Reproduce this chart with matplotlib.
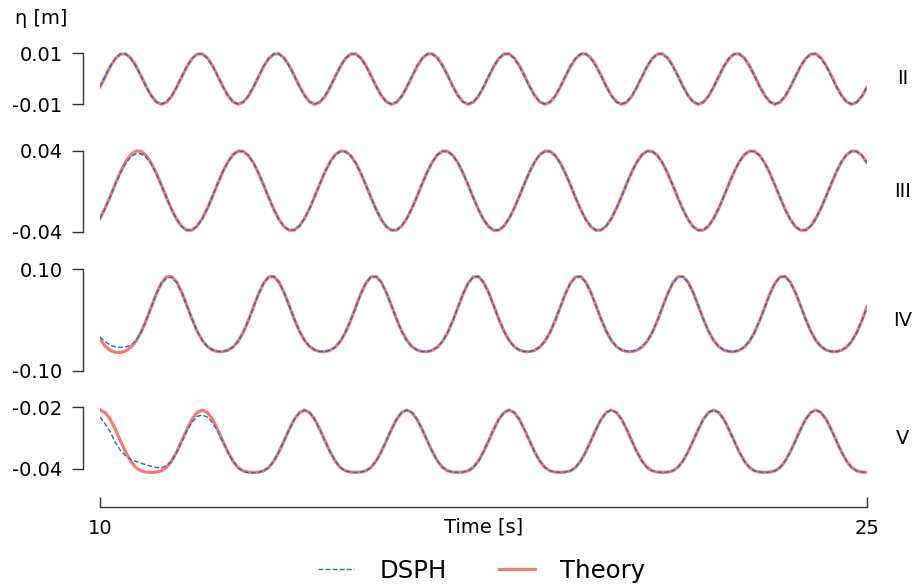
import numpy as np
import matplotlib
matplotlib.use("Agg")
import matplotlib.pyplot as plt
from matplotlib.transforms import blended_transform_factory

plt.rcParams["font.family"] = ["DejaVu Sans"]
plt.rcParams["axes.unicode_minus"] = False

# ---------------- data (surface elevation, metres) ----------------
t_start, t_end, n_samples = 10.0, 25.0, 151
time_s = np.linspace(t_start, t_end, n_samples)

theory_II = [
    -0.0033, 0.0008, 0.0048, 0.0079, 0.0097, 0.0098, 0.0082, 0.0052, 0.0013, -0.0029, -0.0065, -0.0090, -0.0100, -0.0092, -0.0069,
    -0.0033, 0.0008, 0.0048, 0.0079, 0.0097, 0.0098, 0.0082, 0.0052, 0.0013, -0.0029, -0.0065, -0.0090, -0.0100, -0.0092, -0.0069,
    -0.0033, 0.0008, 0.0048, 0.0079, 0.0097, 0.0098, 0.0082, 0.0052, 0.0013, -0.0029, -0.0065, -0.0090, -0.0100, -0.0092, -0.0069,
    -0.0033, 0.0008, 0.0048, 0.0079, 0.0097, 0.0098, 0.0082, 0.0052, 0.0013, -0.0029, -0.0065, -0.0090, -0.0100, -0.0092, -0.0069,
    -0.0033, 0.0008, 0.0048, 0.0079, 0.0097, 0.0098, 0.0082, 0.0052, 0.0013, -0.0029, -0.0065, -0.0090, -0.0100, -0.0092, -0.0069,
    -0.0033, 0.0008, 0.0048, 0.0079, 0.0097, 0.0098, 0.0082, 0.0052, 0.0013, -0.0029, -0.0065, -0.0090, -0.0100, -0.0092, -0.0069,
    -0.0033, 0.0008, 0.0048, 0.0079, 0.0097, 0.0098, 0.0082, 0.0052, 0.0013, -0.0029, -0.0065, -0.0090, -0.0100, -0.0092, -0.0069,
    -0.0033, 0.0008, 0.0048, 0.0079, 0.0097, 0.0098, 0.0082, 0.0052, 0.0013, -0.0029, -0.0065, -0.0090, -0.0100, -0.0092, -0.0069,
    -0.0033, 0.0008, 0.0048, 0.0079, 0.0097, 0.0098, 0.0082, 0.0052, 0.0013, -0.0029, -0.0065, -0.0090, -0.0100, -0.0092, -0.0069,
    -0.0033, 0.0008, 0.0048, 0.0079, 0.0097, 0.0098, 0.0082, 0.0052, 0.0013, -0.0029, -0.0065, -0.0090, -0.0100, -0.0092, -0.0069,
    -0.0033,
]
dsph_II = [
    -0.0031, 0.0010, 0.0050, 0.0080, 0.0097, 0.0097, 0.0080, 0.0050, 0.0011, -0.0031, -0.0066, -0.0091, -0.0099, -0.0091, -0.0067,
    -0.0031, 0.0010, 0.0050, 0.0080, 0.0097, 0.0097, 0.0080, 0.0050, 0.0011, -0.0031, -0.0066, -0.0091, -0.0099, -0.0091, -0.0067,
    -0.0031, 0.0010, 0.0050, 0.0080, 0.0097, 0.0097, 0.0080, 0.0050, 0.0011, -0.0031, -0.0066, -0.0091, -0.0099, -0.0091, -0.0067,
    -0.0031, 0.0010, 0.0050, 0.0080, 0.0097, 0.0097, 0.0080, 0.0050, 0.0011, -0.0031, -0.0066, -0.0091, -0.0099, -0.0091, -0.0067,
    -0.0031, 0.0010, 0.0050, 0.0080, 0.0097, 0.0097, 0.0080, 0.0050, 0.0011, -0.0031, -0.0066, -0.0091, -0.0099, -0.0091, -0.0067,
    -0.0031, 0.0010, 0.0050, 0.0080, 0.0097, 0.0097, 0.0080, 0.0050, 0.0011, -0.0031, -0.0066, -0.0091, -0.0099, -0.0091, -0.0067,
    -0.0031, 0.0010, 0.0050, 0.0080, 0.0097, 0.0097, 0.0080, 0.0050, 0.0011, -0.0031, -0.0066, -0.0091, -0.0099, -0.0091, -0.0067,
    -0.0031, 0.0010, 0.0050, 0.0080, 0.0097, 0.0097, 0.0080, 0.0050, 0.0011, -0.0031, -0.0066, -0.0091, -0.0099, -0.0091, -0.0067,
    -0.0031, 0.0010, 0.0050, 0.0080, 0.0097, 0.0097, 0.0080, 0.0050, 0.0011, -0.0031, -0.0066, -0.0091, -0.0099, -0.0091, -0.0067,
    -0.0031, 0.0010, 0.0050, 0.0080, 0.0097, 0.0097, 0.0080, 0.0050, 0.0011, -0.0031, -0.0066, -0.0091, -0.0099, -0.0091, -0.0067,
    -0.0031,
]

theory_III = [
    -0.0270, -0.0169, -0.0051, 0.0073, 0.0190, 0.0289, 0.0360, 0.0396, 0.0394, 0.0354, 0.0280, 0.0179, 0.0061, -0.0063, -0.0180, -0.0279, -0.0350, -0.0386, -0.0384, -0.0344,
    -0.0270, -0.0169, -0.0051, 0.0073, 0.0190, 0.0289, 0.0360, 0.0396, 0.0394, 0.0354, 0.0280, 0.0179, 0.0061, -0.0063, -0.0180, -0.0279, -0.0350, -0.0386, -0.0384, -0.0344,
    -0.0270, -0.0169, -0.0051, 0.0073, 0.0190, 0.0289, 0.0360, 0.0396, 0.0394, 0.0354, 0.0280, 0.0179, 0.0061, -0.0063, -0.0180, -0.0279, -0.0350, -0.0386, -0.0384, -0.0344,
    -0.0270, -0.0169, -0.0051, 0.0073, 0.0190, 0.0289, 0.0360, 0.0396, 0.0394, 0.0354, 0.0280, 0.0179, 0.0061, -0.0063, -0.0180, -0.0279, -0.0350, -0.0386, -0.0384, -0.0344,
    -0.0270, -0.0169, -0.0051, 0.0073, 0.0190, 0.0289, 0.0360, 0.0396, 0.0394, 0.0354, 0.0280, 0.0179, 0.0061, -0.0063, -0.0180, -0.0279, -0.0350, -0.0386, -0.0384, -0.0344,
    -0.0270, -0.0169, -0.0051, 0.0073, 0.0190, 0.0289, 0.0360, 0.0396, 0.0394, 0.0354, 0.0280, 0.0179, 0.0061, -0.0063, -0.0180, -0.0279, -0.0350, -0.0386, -0.0384, -0.0344,
    -0.0270, -0.0169, -0.0051, 0.0073, 0.0190, 0.0289, 0.0360, 0.0396, 0.0394, 0.0354, 0.0280, 0.0179, 0.0061, -0.0063, -0.0180, -0.0279, -0.0350, -0.0386, -0.0384, -0.0344,
    -0.0270, -0.0169, -0.0051, 0.0073, 0.0190, 0.0289, 0.0360, 0.0396, 0.0394, 0.0354, 0.0280,
]
dsph_III = [
    -0.0270, -0.0170, -0.0054, 0.0068, 0.0180, 0.0272, 0.0337, 0.0368, 0.0370, 0.0336, 0.0268, 0.0173, 0.0060, -0.0063, -0.0180, -0.0279, -0.0350, -0.0386, -0.0384, -0.0344,
    -0.0270, -0.0169, -0.0051, 0.0073, 0.0190, 0.0289, 0.0360, 0.0394, 0.0392, 0.0353, 0.0280, 0.0179, 0.0061, -0.0063, -0.0180, -0.0279, -0.0350, -0.0386, -0.0384, -0.0344,
    -0.0270, -0.0169, -0.0051, 0.0073, 0.0190, 0.0289, 0.0358, 0.0390, 0.0388, 0.0350, 0.0279, 0.0179, 0.0061, -0.0063, -0.0180, -0.0279, -0.0350, -0.0386, -0.0384, -0.0344,
    -0.0270, -0.0169, -0.0051, 0.0073, 0.0190, 0.0289, 0.0360, 0.0394, 0.0392, 0.0353, 0.0280, 0.0179, 0.0061, -0.0063, -0.0180, -0.0279, -0.0350, -0.0386, -0.0384, -0.0344,
    -0.0270, -0.0169, -0.0051, 0.0073, 0.0190, 0.0289, 0.0360, 0.0394, 0.0392, 0.0353, 0.0280, 0.0179, 0.0061, -0.0063, -0.0180, -0.0279, -0.0350, -0.0386, -0.0384, -0.0344,
    -0.0270, -0.0169, -0.0051, 0.0073, 0.0190, 0.0289, 0.0360, 0.0394, 0.0392, 0.0353, 0.0280, 0.0179, 0.0061, -0.0063, -0.0180, -0.0279, -0.0350, -0.0386, -0.0384, -0.0344,
    -0.0270, -0.0169, -0.0051, 0.0073, 0.0190, 0.0289, 0.0360, 0.0394, 0.0392, 0.0353, 0.0280, 0.0179, 0.0061, -0.0063, -0.0180, -0.0279, -0.0350, -0.0386, -0.0384, -0.0344,
    -0.0270, -0.0169, -0.0051, 0.0073, 0.0190, 0.0289, 0.0360, 0.0394, 0.0392, 0.0353, 0.0280,
]

theory_IV = [
    -0.0370, -0.0515, -0.0600, -0.0638, -0.0642, -0.0612, -0.0540, -0.0422, -0.0246, -0.0014, 0.0252, 0.0514, 0.0728, 0.0851, 0.0858, 0.0748, 0.0544, 0.0284, 0.0016, -0.0220,
    -0.0402, -0.0524, -0.0592, -0.0622, -0.0624, -0.0597, -0.0534, -0.0420, -0.0246, -0.0014, 0.0252, 0.0514, 0.0728, 0.0851, 0.0858, 0.0748, 0.0544, 0.0284, 0.0016, -0.0220,
    -0.0402, -0.0524, -0.0592, -0.0622, -0.0624, -0.0597, -0.0534, -0.0420, -0.0246, -0.0014, 0.0252, 0.0514, 0.0728, 0.0851, 0.0858, 0.0748, 0.0544, 0.0284, 0.0016, -0.0220,
    -0.0402, -0.0524, -0.0592, -0.0622, -0.0624, -0.0597, -0.0534, -0.0420, -0.0246, -0.0014, 0.0252, 0.0514, 0.0728, 0.0851, 0.0858, 0.0748, 0.0544, 0.0284, 0.0016, -0.0220,
    -0.0402, -0.0524, -0.0592, -0.0622, -0.0624, -0.0597, -0.0534, -0.0420, -0.0246, -0.0014, 0.0252, 0.0514, 0.0728, 0.0851, 0.0858, 0.0748, 0.0544, 0.0284, 0.0016, -0.0220,
    -0.0402, -0.0524, -0.0592, -0.0622, -0.0624, -0.0597, -0.0534, -0.0420, -0.0246, -0.0014, 0.0252, 0.0514, 0.0728, 0.0851, 0.0858, 0.0748, 0.0544, 0.0284, 0.0016, -0.0220,
    -0.0402, -0.0524, -0.0592, -0.0622, -0.0624, -0.0597, -0.0534, -0.0420, -0.0246, -0.0014, 0.0252, 0.0514, 0.0728, 0.0851, 0.0858, 0.0748, 0.0544, 0.0284, 0.0016, -0.0220,
    -0.0402, -0.0524, -0.0592, -0.0622, -0.0624, -0.0597, -0.0534, -0.0420, -0.0246, -0.0014, 0.0265,
]
dsph_IV = [
    -0.0335, -0.0430, -0.0495, -0.0530, -0.0540, -0.0530, -0.0495, -0.0412, -0.0250, -0.0016, 0.0248, 0.0508, 0.0718, 0.0833, 0.0843, 0.0738, 0.0540, 0.0284, 0.0016, -0.0220,
    -0.0402, -0.0524, -0.0592, -0.0622, -0.0624, -0.0597, -0.0534, -0.0420, -0.0246, -0.0014, 0.0252, 0.0514, 0.0725, 0.0848, 0.0855, 0.0745, 0.0542, 0.0282, 0.0015, -0.0220,
    -0.0402, -0.0524, -0.0592, -0.0622, -0.0624, -0.0597, -0.0534, -0.0420, -0.0246, -0.0014, 0.0252, 0.0514, 0.0725, 0.0848, 0.0855, 0.0745, 0.0542, 0.0282, 0.0015, -0.0220,
    -0.0402, -0.0524, -0.0592, -0.0622, -0.0624, -0.0597, -0.0534, -0.0420, -0.0246, -0.0014, 0.0252, 0.0514, 0.0725, 0.0848, 0.0855, 0.0745, 0.0542, 0.0282, 0.0015, -0.0220,
    -0.0402, -0.0524, -0.0592, -0.0622, -0.0624, -0.0597, -0.0534, -0.0420, -0.0246, -0.0014, 0.0252, 0.0514, 0.0725, 0.0848, 0.0855, 0.0745, 0.0542, 0.0282, 0.0015, -0.0220,
    -0.0402, -0.0524, -0.0592, -0.0615, -0.0615, -0.0590, -0.0530, -0.0420, -0.0246, -0.0014, 0.0252, 0.0514, 0.0725, 0.0848, 0.0855, 0.0745, 0.0542, 0.0282, 0.0015, -0.0220,
    -0.0402, -0.0524, -0.0592, -0.0622, -0.0624, -0.0597, -0.0534, -0.0420, -0.0246, -0.0014, 0.0252, 0.0514, 0.0725, 0.0848, 0.0855, 0.0745, 0.0542, 0.0282, 0.0015, -0.0220,
    -0.0402, -0.0524, -0.0592, -0.0622, -0.0624, -0.0597, -0.0534, -0.0420, -0.0246, -0.0014, 0.0262,
]

theory_V = [
    -0.0209, -0.0217, -0.0239, -0.0272, -0.0309, -0.0345, -0.0375, -0.0396, -0.0407, -0.0411, -0.0412, -0.0411, -0.0407, -0.0396, -0.0375, -0.0345, -0.0309, -0.0272, -0.0239, -0.0217,
    -0.0209, -0.0217, -0.0239, -0.0272, -0.0309, -0.0345, -0.0375, -0.0396, -0.0407, -0.0411, -0.0412, -0.0411, -0.0407, -0.0396, -0.0375, -0.0345, -0.0309, -0.0272, -0.0239, -0.0217,
    -0.0209, -0.0217, -0.0239, -0.0272, -0.0309, -0.0345, -0.0375, -0.0396, -0.0407, -0.0411, -0.0412, -0.0411, -0.0407, -0.0396, -0.0375, -0.0345, -0.0309, -0.0272, -0.0239, -0.0217,
    -0.0209, -0.0217, -0.0239, -0.0272, -0.0309, -0.0345, -0.0375, -0.0396, -0.0407, -0.0411, -0.0412, -0.0411, -0.0407, -0.0396, -0.0375, -0.0345, -0.0309, -0.0272, -0.0239, -0.0217,
    -0.0209, -0.0217, -0.0239, -0.0272, -0.0309, -0.0345, -0.0375, -0.0396, -0.0407, -0.0411, -0.0412, -0.0411, -0.0407, -0.0396, -0.0375, -0.0345, -0.0309, -0.0272, -0.0239, -0.0217,
    -0.0209, -0.0217, -0.0239, -0.0272, -0.0309, -0.0345, -0.0375, -0.0396, -0.0407, -0.0411, -0.0412, -0.0411, -0.0407, -0.0396, -0.0375, -0.0345, -0.0309, -0.0272, -0.0239, -0.0217,
    -0.0209, -0.0217, -0.0239, -0.0272, -0.0309, -0.0345, -0.0375, -0.0396, -0.0407, -0.0411, -0.0412, -0.0411, -0.0407, -0.0396, -0.0375, -0.0345, -0.0309, -0.0272, -0.0239, -0.0217,
    -0.0209, -0.0217, -0.0239, -0.0272, -0.0309, -0.0345, -0.0375, -0.0396, -0.0407, -0.0411, -0.0412,
]
dsph_V = [
    -0.0231, -0.0254, -0.0280, -0.0314, -0.0340, -0.0358, -0.0370, -0.0376, -0.0382, -0.0387, -0.0392, -0.0396, -0.0397, -0.0390, -0.0376, -0.0347, -0.0312, -0.0277, -0.0248, -0.0230,
    -0.0225, -0.0232, -0.0250, -0.0278, -0.0311, -0.0346, -0.0376, -0.0398, -0.0409, -0.0413, -0.0414, -0.0412, -0.0407, -0.0396, -0.0375, -0.0345, -0.0309, -0.0272, -0.0240, -0.0218,
    -0.0210, -0.0218, -0.0240, -0.0273, -0.0310, -0.0345, -0.0375, -0.0396, -0.0407, -0.0411, -0.0412, -0.0411, -0.0407, -0.0396, -0.0375, -0.0345, -0.0309, -0.0272, -0.0239, -0.0217,
    -0.0209, -0.0217, -0.0239, -0.0272, -0.0309, -0.0345, -0.0375, -0.0396, -0.0407, -0.0411, -0.0412, -0.0411, -0.0407, -0.0396, -0.0375, -0.0345, -0.0309, -0.0272, -0.0239, -0.0217,
    -0.0209, -0.0217, -0.0239, -0.0272, -0.0309, -0.0345, -0.0375, -0.0396, -0.0407, -0.0411, -0.0412, -0.0411, -0.0407, -0.0396, -0.0375, -0.0345, -0.0309, -0.0272, -0.0239, -0.0217,
    -0.0209, -0.0217, -0.0239, -0.0272, -0.0309, -0.0345, -0.0375, -0.0396, -0.0407, -0.0411, -0.0412, -0.0411, -0.0407, -0.0396, -0.0375, -0.0345, -0.0309, -0.0272, -0.0239, -0.0217,
    -0.0209, -0.0217, -0.0239, -0.0272, -0.0309, -0.0345, -0.0375, -0.0396, -0.0407, -0.0411, -0.0412, -0.0411, -0.0407, -0.0396, -0.0375, -0.0345, -0.0309, -0.0272, -0.0239, -0.0217,
    -0.0209, -0.0217, -0.0239, -0.0272, -0.0309, -0.0345, -0.0375, -0.0396, -0.0407, -0.0411, -0.0412,
]

panel_names = ["II", "III", "IV", "V"]
y_ticks_II, y_ticklabels_II = [-0.01, 0.01], ["-0.01", "0.01"]
y_ticks_III, y_ticklabels_III = [-0.04, 0.04], ["-0.04", "0.04"]
y_ticks_IV, y_ticklabels_IV = [-0.10, 0.10], ["-0.10", "0.10"]
y_ticks_V, y_ticklabels_V = [-0.04, -0.02], ["-0.04", "-0.02"]
x_ticks, x_ticklabels = [10, 25], ["10", "25"]
series_names = ["DSPH", "Theory"]

for arr in (theory_II, dsph_II, theory_III, dsph_III, theory_IV, dsph_IV, theory_V, dsph_V):
    assert len(arr) == n_samples, len(arr)

# ---------------- layout / style ----------------
W, H, DPI = 913, 587, 100
X0, X1 = 100, 867          # pixel x of t=10 and t=25
RED = "#F27B78"
BLUE = "#1F6FBF"
SPINE = "#333333"

fig = plt.figure(figsize=(W / DPI, H / DPI), dpi=DPI)

panels = [
    (panel_names[0], theory_II, dsph_II, y_ticks_II, y_ticklabels_II, 53.3, 104.3),
    (panel_names[1], theory_III, dsph_III, y_ticks_III, y_ticklabels_III, 150.7, 231.7),
    (panel_names[2], theory_IV, dsph_IV, y_ticks_IV, y_ticklabels_IV, 269.3, 370.7),
    (panel_names[3], theory_V, dsph_V, y_ticks_V, y_ticklabels_V, 407.3, 468.7),
]

handles = None
for name, th, ds, ticks, labels, ptop, pbot in panels:
    lo, hi = ticks
    span = hi - lo
    m = 0.15 * span
    scale = (pbot - ptop) / span
    ax_top = ptop - m * scale
    ax_bot = pbot + m * scale
    ax = fig.add_axes([X0 / W, 1 - ax_bot / H, (X1 - X0) / W, (ax_bot - ax_top) / H])
    ax.patch.set_visible(False)
    l_th, = ax.plot(time_s, th, color=RED, lw=2.3, zorder=2, label=series_names[1])
    l_ds, = ax.plot(time_s, ds, color=BLUE, lw=1.0, ls=(0, (3.5, 1.6)), zorder=3,
                    label=series_names[0])
    if handles is None:
        handles = [l_ds, l_th]
    ax.set_xlim(t_start, t_end)
    ax.set_ylim(lo - m, hi + m)
    for s in ("top", "right", "bottom"):
        ax.spines[s].set_visible(False)
    ax.spines["left"].set_position(("outward", 17 * 72 / DPI))
    ax.spines["left"].set_bounds(lo, hi)
    ax.spines["left"].set_color(SPINE)
    ax.spines["left"].set_linewidth(1.0)
    ax.set_yticks(ticks)
    ax.set_yticklabels(labels)
    ax.set_xticks([])
    ax.tick_params(axis="y", length=7.6, width=1.0, color=SPINE, pad=7, labelsize=14)
    ax.text((903 - X0) / (X1 - X0), (lo + hi) / 2, name,
            transform=blended_transform_factory(ax.transAxes, ax.transData),
            ha="center", va="center", fontsize=14)

# shared time axis
ax_x = fig.add_axes([X0 / W, 1 - 507 / H, (X1 - X0) / W, 0.002])
ax_x.patch.set_visible(False)
ax_x.set_xlim(t_start, t_end)
ax_x.set_yticks([])
for s in ("top", "right", "left"):
    ax_x.spines[s].set_visible(False)
ax_x.spines["bottom"].set_color(SPINE)
ax_x.spines["bottom"].set_linewidth(1.0)
ax_x.set_xticks(x_ticks)
ax_x.set_xticklabels(x_ticklabels)
ax_x.tick_params(axis="x", direction="in", length=7.2, width=1.0, color=SPINE, pad=9,
                 labelsize=14)
ax_x.set_xlabel("Time [s]", fontsize=14, va="center")
ax_x.xaxis.set_label_coords(483.5 / W, 1 - 527 / H, transform=fig.transFigure)

fig.text(41 / W, 1 - 18 / H, "η [m]", ha="center", va="center", fontsize=14)

fig.legend(handles=handles, labels=series_names, loc="center",
           bbox_to_anchor=(482 / W, 1 - 571 / H), ncol=2, frameon=False,
           fontsize=17.6, handlelength=1.45, handletextpad=1.05, columnspacing=2.15)

fig.savefig("out.png", dpi=DPI)
